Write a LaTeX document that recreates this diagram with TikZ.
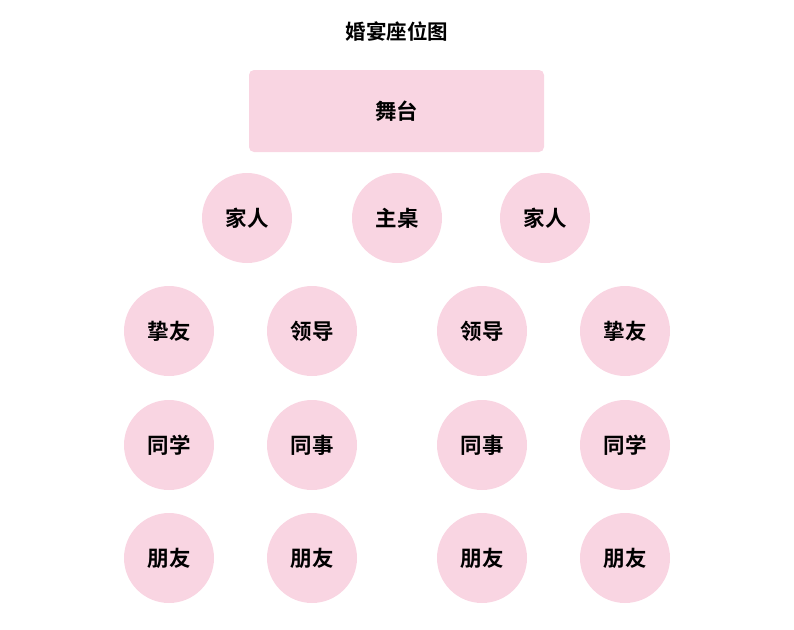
\documentclass[tikz,border=0pt]{standalone}
\usepackage{fontspec}
\newfontfamily\cjk{Noto Sans CJK SC}[BoldFont={Noto Sans CJK SC Bold}]
\definecolor{seatpink}{RGB}{249,213,226}
\begin{document}
\begin{tikzpicture}[
        x=1pt, y=-1pt,
        every node/.style={font=\cjk\bfseries\fontsize{21.5}{26}\selectfont},
        table/.style={circle, fill=seatpink, minimum size=90pt, inner sep=0pt}, % round tables
        stage/.style={rectangle, rounded corners=5pt, fill=seatpink, minimum width=295pt, minimum height=82pt}
    ]
    \useasboundingbox (0,0) rectangle (794,629);
    \node[font=\cjk\bfseries\fontsize{20.5}{25}\selectfont] (title) at (397,32) {婚宴座位图};
    \node[stage] (stage) at (396.5,111) {舞台};
    % first row
    \node[table] (familyL) at (247,218) {家人};
    \node[table] (head) at (397,218) {主桌};
    \node[table] (familyR) at (545,218) {家人};
    % guest rows
    \foreach \x/\side/\top/\mid in {169/a/挚友/同学,312/b/领导/同事,482/c/领导/同事,625/d/挚友/同学} {
        \node[table] (bestie-\side) at (\x,331) {\top};
        \node[table] (class-\side) at (\x,445) {\mid};
        \node[table] (friend-\side) at (\x,558) {朋友};
    }
\end{tikzpicture}
\end{document}
